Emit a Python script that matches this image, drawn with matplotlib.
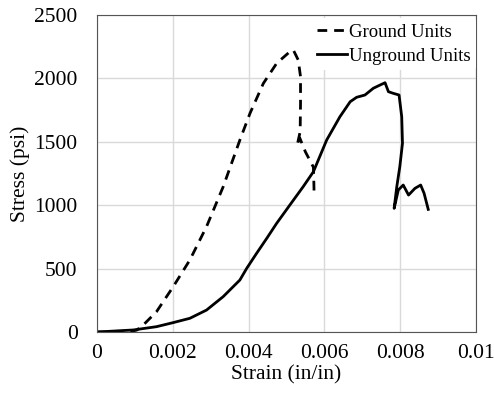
import matplotlib
matplotlib.use("Agg")
import matplotlib.pyplot as plt

plt.rcParams['font.family'] = ['Liberation Serif', 'DejaVu Serif']

ground_strain = [0.0, 0.0008, 0.00105, 0.00122, 0.00157, 0.00201, 0.00245, 0.00289, 0.00333, 0.00377,
                 0.00404, 0.00439, 0.00474, 0.00509, 0.00518, 0.00531, 0.00537, 0.00537, 0.00536,
                 0.00528, 0.00535, 0.00550, 0.00571, 0.00572, 0.00573]
ground_stress = [0, 0, 15, 55, 160, 357, 568, 831, 1146, 1514,
                 1727, 1961, 2119, 2211, 2224, 2145, 2013, 1800, 1580,
                 1470, 1530, 1420, 1300, 1200, 1070]

unground_strain = [0.0, 0.00096, 0.00157, 0.00201, 0.00245, 0.00289, 0.00333, 0.00377, 0.00395,
                   0.00421, 0.00448, 0.00474, 0.00509, 0.00544, 0.00571, 0.00606, 0.00641,
                   0.00668, 0.00685, 0.00707, 0.00729, 0.00747, 0.0076, 0.00769, 0.00782,
                   0.00797, 0.00804, 0.00806, 0.00799, 0.00791, 0.00784, 0.00795, 0.00808,
                   0.00822, 0.00839, 0.00854, 0.00863, 0.00874]
unground_stress = [0, 16, 42, 74, 108, 173, 279, 410, 502,
                   620, 739, 857, 1002, 1146, 1264, 1514, 1698,
                   1816, 1851, 1869, 1922, 1948, 1966, 1895, 1882,
                   1869, 1698, 1488, 1304, 1146, 975, 1120, 1159,
                   1080, 1133, 1159, 1094, 967]

fig = plt.figure(figsize=(4.94, 3.94), dpi=100)
ax = fig.add_axes([97/494, 1-332/394, 379/494, 317/394])
ax.plot(ground_strain, ground_stress, 'k--', lw=2.0, dashes=(3.5, 2.5), label='Ground Units')
ax.plot(unground_strain, unground_stress, 'k-', lw=2.0, label='Unground Units')
ax.set_xlim(0, 0.01)
ax.set_ylim(0, 2500)
ax.set_xticks([0, 0.002, 0.004, 0.006, 0.008, 0.01])
ax.set_xticklabels(['0', '0.002', '0.004', '0.006', '0.008', '0.01'])
ax.set_yticks([0, 500, 1000, 1500, 2000, 2500])
ax.grid(True, color='#d9d9d9', lw=1)
ax.set_axisbelow(True)
ax.tick_params(length=0, labelsize=15.5)
ax.tick_params(axis='x', pad=9)
ax.tick_params(axis='y', pad=14)
for s in ax.spines.values():
    s.set_color('#555555')
ax.set_xlabel('Strain (in/in)', fontsize=15.5, labelpad=1)
ax.set_ylabel('Stress (psi)', fontsize=15.5, labelpad=3)
leg = ax.legend(loc='upper right', frameon=True, fontsize=13.5, handlelength=1.6,
                handletextpad=0.1, borderaxespad=0.0, borderpad=0.3, labelspacing=0.35,
                bbox_to_anchor=(1.0, 0.99))
leg.get_frame().set_edgecolor('none')
leg.get_frame().set_facecolor('white')
leg.get_frame().set_alpha(1)
fig.savefig('out.png', dpi=100)
